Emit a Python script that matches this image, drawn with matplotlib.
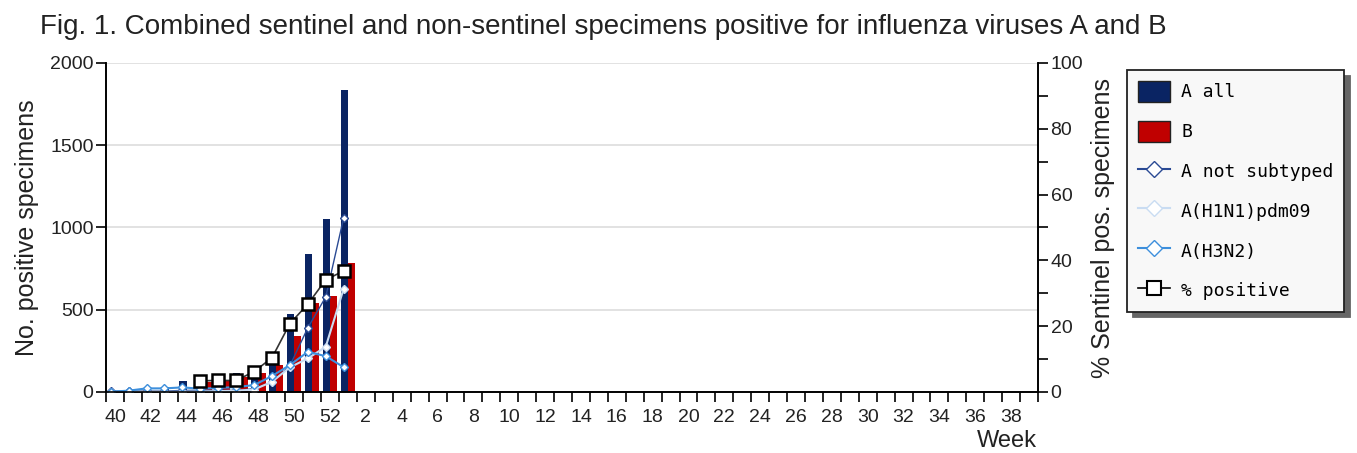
import numpy as np
import matplotlib
matplotlib.use("Agg")
import matplotlib.pyplot as plt
from matplotlib.lines import Line2D
from matplotlib.patches import Patch

plt.rcParams["font.family"] = ["Liberation Sans", "DejaVu Sans"]

# Weeks on the x axis (season 40 -> 39)
weeks = list(range(40, 53)) + list(range(1, 40))

# Data for weeks 40..52 and 1 (only these have values)
a_all = [8, 10, 12, 30, 68, 60, 80, 115, 133, 218, 477, 836, 1050, 1836]
b_vals = [2, 3, 4, 6, 12, 63, 73, 93, 115, 164, 339, 540, 582, 784]
a_not_subtyped = [5, 5, 5, 5, 10, 10, 10, 10, 20, 60, 160, 390, 578, 1059]
a_h1n1 = [0, 0, 0, 0, 2, 3, 5, 8, 15, 62, 150, 204, 275, 628]
a_h3n2 = [2, 8, 22, 22, 28, 20, 25, 30, 42, 97, 164, 244, 218, 151]
pct_positive = [np.nan] * 5 + [3.4, 3.5, 3.5, 6.2, 10.4, 20.8, 26.7, 34.1, 36.8]

c_a = "#0a2463"
c_b = "#c00000"
c_nst = "#2a4a94"
c_h1 = "#c9dcf2"
c_h3 = "#3d8fdc"
txt = "#222222"

fig = plt.figure(figsize=(13.57, 4.53), dpi=100)
ax = fig.add_axes([106 / 1357, 1 - 392 / 453, 932 / 1357, 329 / 453])
ax2 = ax.twinx()

x = np.arange(len(a_all))
bw = 0.4
ax.bar(x - bw / 2, a_all, width=bw, color=c_a, zorder=2)
ax.bar(x + bw / 2, b_vals, width=bw, color=c_b, zorder=2)

xl = x - 0.24
ax.plot(xl, a_not_subtyped, color=c_nst, lw=1, marker="D", ms=4.5,
        mfc="white", mec=c_nst, mew=1, zorder=3)
ax.plot(xl, a_h1n1, color=c_h1, lw=1.5, marker="D", ms=4.5,
        mfc="white", mec=c_h1, mew=1, zorder=3)
ax.plot(xl, a_h3n2, color=c_h3, lw=1.5, marker="D", ms=4.5,
        mfc="white", mec=c_h3, mew=1, zorder=3)
ax2.plot(xl, pct_positive, color="#333333", lw=1.2, marker="s", ms=8,
         mfc="white", mec="black", mew=1.8, zorder=4)

ax.set_xlim(-0.5, len(weeks) - 0.5)
ax.set_ylim(0, 2000)
ax2.set_ylim(0, 100)

ax.set_yticks([0, 500, 1000, 1500, 2000])
ax.yaxis.grid(True, color="#dddddd", lw=1.2, zorder=0)
ax.set_axisbelow(True)
ax2.set_yticks(range(0, 101, 20))
ax2.set_yticks(range(10, 100, 20), minor=True)

ax.set_xticks(np.arange(-0.5, len(weeks), 1))
ax.set_xticklabels([])
ax.set_xticks(np.arange(0, len(weeks), 2), minor=True)
ax.set_xticklabels([str(w) for w in weeks[::2]], minor=True)
ax.tick_params(axis="x", which="major", length=7, width=1.2, direction="out")
ax.tick_params(axis="x", which="minor", length=0, pad=12, labelsize=14,
               labelcolor=txt)
ax.tick_params(axis="y", length=7, width=1.2, labelsize=14, labelcolor=txt, pad=2)
ax2.tick_params(axis="y", which="both", length=7, width=1.2, labelsize=14,
                labelcolor=txt, pad=2)

for a in (ax, ax2):
    a.spines["top"].set_visible(False)
    for s in ("left", "right", "bottom"):
        a.spines[s].set_linewidth(1.2)

ax.set_ylabel("No. positive specimens", fontsize=18, color=txt, labelpad=8)
ax2.set_ylabel("% Sentinel pos. specimens", fontsize=18, color=txt,
               rotation=90, labelpad=6)
fig.text(1037 / 1357, 1 - 441 / 453, "Week", fontsize=17, ha="right",
         va="center", color=txt)
fig.text(40 / 1357, 1 - 27 / 453,
         "Fig. 1. Combined sentinel and non-sentinel specimens positive for influenza viruses A and B",
         fontsize=20, ha="left", va="center", color=txt)

handles = [
    Patch(facecolor=c_a, edgecolor=txt, label="A all"),
    Patch(facecolor=c_b, edgecolor=txt, label="B"),
    Line2D([], [], color=c_nst, lw=1.5, marker="D", ms=8, mfc="white",
           mec=c_nst, label="A not subtyped"),
    Line2D([], [], color=c_h1, lw=1.5, marker="D", ms=8, mfc="white",
           mec=c_h1, label="A(H1N1)pdm09"),
    Line2D([], [], color=c_h3, lw=1.5, marker="D", ms=8, mfc="white",
           mec=c_h3, label="A(H3N2)"),
    Line2D([], [], color="black", lw=1.2, marker="s", ms=10, mfc="white",
           mec="black", mew=1.5, label="% positive"),
]
leg = fig.legend(handles=handles, loc="upper left",
                 bbox_to_anchor=(1127 / 1357, 1 - 70 / 453),
                 prop={"family": "DejaVu Sans Mono", "size": 13},
                 frameon=True, fancybox=False, edgecolor=txt,
                 facecolor="#f8f8f8", framealpha=1, labelspacing=1.05,
                 handlelength=1.8, handleheight=1.4, handletextpad=0.6,
                 borderpad=0.6, borderaxespad=0,
                 shadow={"ox": 4, "oy": -4, "color": "#666666", "alpha": 1})
leg.get_frame().set_linewidth(1.3)

fig.savefig("out.png", dpi=100)
